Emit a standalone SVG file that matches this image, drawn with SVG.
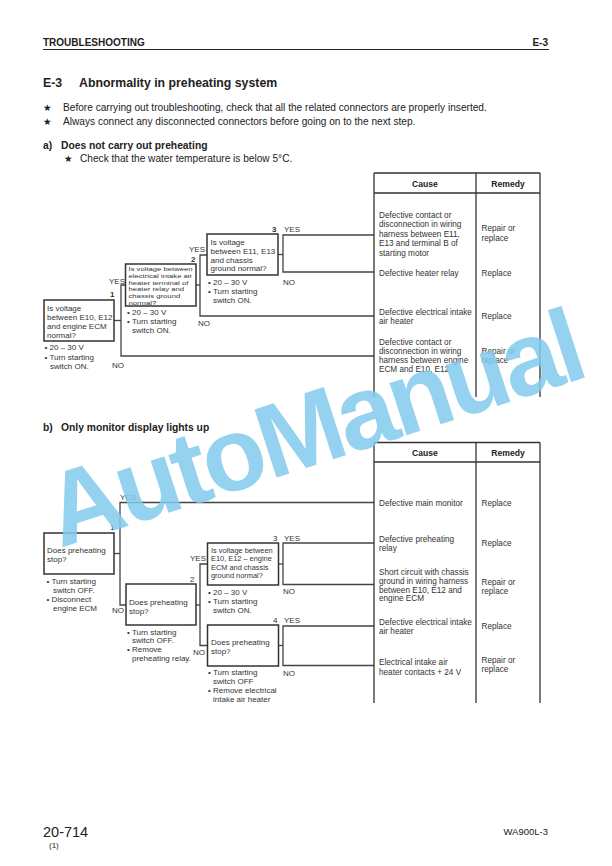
<svg xmlns="http://www.w3.org/2000/svg" width="612" height="866" viewBox="0 0 612 866">
<style>
text{font-family:"Liberation Sans",Arial,sans-serif;fill:#222}
.b{font-weight:bold}
.star{font-family:"DejaVu Sans",sans-serif;font-size:9.5px}
.body{font-size:10.15px}
.q{font-size:8px;fill:#333}
.qs{font-size:7.4px;fill:#333}
.qc{font-size:7.7px;fill:#333}
.lbl{font-size:8px;fill:#333}
.num{font-size:8px;fill:#333}
.tc{font-size:8.2px;fill:#333}
.th{font-size:8.6px;font-weight:bold;text-anchor:middle}
.box{fill:#fff;stroke:#333;stroke-width:1.5}
.conn{fill:none;stroke:#444;stroke-width:1.3}
.tbl{fill:none;stroke:#333;stroke-width:1.3}
</style>
<rect width="612" height="866" fill="#fff"/>

<g id="header">
<text x="43" y="46" class="b" font-size="10">TROUBLESHOOTING</text>
<text x="548" y="46" class="b" font-size="10" text-anchor="end">E-3</text>
<line x1="43" y1="49.5" x2="549" y2="49.5" stroke="#222" stroke-width="1"/>
<text x="43" y="86.5" class="b" font-size="12.3">E-3</text>
<text x="79" y="86.5" class="b" font-size="12.3">Abnormality in preheating system</text>
<text x="43" y="111" class="star">★</text>
<text x="63" y="110.5" class="body">Before carrying out troubleshooting, check that all the related connectors are properly inserted.</text>
<text x="43" y="125" class="star">★</text>
<text x="63" y="124.5" class="body">Always connect any disconnected connectors before going on to the next step.</text>
<text x="43" y="148.5" class="b" font-size="10.3">a)</text>
<text x="61" y="148.5" class="b" font-size="10.3">Does not carry out preheating</text>
<text x="64" y="162" class="star">★</text>
<text x="80" y="161.5" class="body">Check that the water temperature is below 5°C.</text>
<text x="43" y="430.5" class="b" font-size="10.3">b)</text>
<text x="61" y="430.5" class="b" font-size="10.3">Only monitor display lights up</text>
</g>

<g id="connectors">
<polyline class="conn" points="114,320.5 121,320.5"/>
<polyline class="conn" points="125.5,285 121,285 121,356 374,356"/>
<polyline class="conn" points="196,285 200,285"/>
<polyline class="conn" points="207,255 200,255 200,316 374,316"/>
<polyline class="conn" points="278,254.5 283,254.5"/>
<polyline class="conn" points="374,235 283,235 283,272 374,272"/>
<polyline class="conn" points="114,553.5 120,553.5"/>
<polyline class="conn" points="374,502.5 120,502.5 120,605 126,605"/>
<polyline class="conn" points="196,605 200,605"/>
<polyline class="conn" points="207.5,564 200,564 200,645.5 207.5,645.5"/>
<polyline class="conn" points="278.5,564 283,564"/>
<polyline class="conn" points="374,543 283,543 283,584.5 374,584.5"/>
<polyline class="conn" points="278.5,645.5 283,645.5"/>
<polyline class="conn" points="374,626 283,626 283,665.5 374,665.5"/>
<text x="109" y="284" class="lbl">YES</text>
<text x="112" y="368" class="lbl">NO</text>
<text x="189" y="252" class="lbl">YES</text>
<text x="198" y="326" class="lbl">NO</text>
<text x="284" y="232" class="lbl">YES</text>
<text x="283" y="285" class="lbl">NO</text>
<text x="120" y="500" class="lbl">YES</text>
<text x="112" y="613" class="lbl">NO</text>
<text x="190" y="561" class="lbl">YES</text>
<text x="193" y="655" class="lbl">NO</text>
<text x="284" y="541" class="lbl">YES</text>
<text x="283" y="594" class="lbl">NO</text>
<text x="284" y="622.5" class="lbl">YES</text>
<text x="283" y="676" class="lbl">NO</text>
</g>

<g id="a-step1">
<rect class="box" x="44" y="300" width="70" height="41"/>
<text x="110" y="297" class="num b">1</text>
<text class="q"><tspan x="47" y="311">Is voltage</tspan><tspan x="47" y="320">between E10, E12</tspan><tspan x="47" y="329">and engine ECM</tspan><tspan x="47" y="338">normal?</tspan></text>
<text class="q"><tspan x="44.5" y="350">• 20 – 30 V</tspan><tspan x="44.5" y="359.5">• Turn starting</tspan><tspan x="50" y="368.5">switch ON.</tspan></text>
</g>

<g id="a-step2">
<rect class="box" x="125.5" y="264" width="70.5" height="42"/>
<text x="191" y="262" class="num b">2</text>
<g transform="matrix(1,0,0,0.78,0,0)">
<text class="qc"><tspan x="128.5" y="347.8">Is voltage between</tspan><tspan x="128.5" y="356.4">electrical intake air</tspan><tspan x="128.5" y="365">heater terminal of</tspan><tspan x="128.5" y="373.6">heater relay and</tspan><tspan x="128.5" y="382.2">chassis ground</tspan><tspan x="128.5" y="390.8">normal?</tspan></text>
</g>
<text class="q"><tspan x="127" y="314.5">• 20 – 30 V</tspan><tspan x="127" y="324.3">• Turn starting</tspan><tspan x="132" y="333.3">switch ON.</tspan></text>
</g>

<g id="a-step3">
<rect class="box" x="207" y="234" width="71" height="41"/>
<text x="272" y="232" class="num b">3</text>
<text class="q"><tspan x="210.5" y="244.5">Is voltage</tspan><tspan x="210.5" y="254">between E11, E13</tspan><tspan x="210.5" y="262.5">and chassis</tspan><tspan x="210.5" y="271">ground normal?</tspan></text>
<text class="q"><tspan x="208" y="284.5">• 20 – 30 V</tspan><tspan x="208" y="294">• Turn starting</tspan><tspan x="213" y="303">switch ON.</tspan></text>
</g>

<g id="a-table">
<line class="tbl" x1="374" y1="173" x2="540" y2="173"/>
<line class="tbl" x1="374" y1="193" x2="540" y2="193"/>
<line class="tbl" x1="374" y1="173" x2="374" y2="397"/>
<line class="tbl" x1="476" y1="173" x2="476" y2="397"/>
<line class="tbl" x1="540" y1="173" x2="540" y2="397"/>
<text x="425" y="187" class="th">Cause</text>
<text x="508" y="187" class="th">Remedy</text>
<text class="tc"><tspan x="379" y="217.5">Defective contact or</tspan><tspan x="379" y="227">disconnection in wiring</tspan><tspan x="379" y="236.5">harness between E11,</tspan><tspan x="379" y="246">E13 and terminal B of</tspan><tspan x="379" y="255.5">starting motor</tspan></text>
<text class="tc"><tspan x="481.5" y="231">Repair or</tspan><tspan x="481.5" y="240.5">replace</tspan></text>
<text class="tc" x="379" y="276">Defective heater relay</text>
<text class="tc" x="481.5" y="276">Replace</text>
<text class="tc"><tspan x="379" y="314.5">Defective electrical intake</tspan><tspan x="379" y="323.5">air heater</tspan></text>
<text class="tc" x="481.5" y="319">Replace</text>
<text class="tc"><tspan x="379" y="344.5">Defective contact or</tspan><tspan x="379" y="353.5">disconnection in wiring</tspan><tspan x="379" y="363">harness between engine</tspan><tspan x="379" y="372">ECM and E10, E12</tspan></text>
<text class="tc"><tspan x="481.5" y="354">Repair or</tspan><tspan x="481.5" y="363">replace</tspan></text>
</g>

<g id="b-step1">
<rect class="box" x="44" y="533" width="70" height="41"/>
<text x="110" y="530" class="num">1</text>
<text class="q"><tspan x="47" y="553">Does preheating</tspan><tspan x="47" y="562">stop?</tspan></text>
<text class="q"><tspan x="46.5" y="584">• Turn starting</tspan><tspan x="53" y="593">switch OFF.</tspan><tspan x="46.5" y="602">• Disconnect</tspan><tspan x="53" y="611">engine ECM</tspan></text>
</g>

<g id="b-step2">
<rect class="box" x="126" y="584" width="70" height="41"/>
<text x="190" y="582" class="num">2</text>
<text class="q"><tspan x="129" y="604.5">Does preheating</tspan><tspan x="129" y="613.5">stop?</tspan></text>
<text class="q"><tspan x="127" y="634.5">• Turn starting</tspan><tspan x="132" y="643">switch OFF.</tspan><tspan x="127" y="652">• Remove</tspan><tspan x="132" y="661">preheating relay.</tspan></text>
</g>

<g id="b-step3">
<rect class="box" x="207.5" y="543" width="71" height="42"/>
<text x="273" y="541" class="num">3</text>
<text class="qs"><tspan x="211" y="553">Is voltage between</tspan><tspan x="211" y="561.3">E10, E12 – engine</tspan><tspan x="211" y="569.6">ECM and chassis</tspan><tspan x="211" y="578">ground normal?</tspan></text>
<text class="q"><tspan x="208" y="594.5">• 20 – 30 V</tspan><tspan x="208" y="604">• Turn starting</tspan><tspan x="213" y="613">switch ON.</tspan></text>
</g>

<g id="b-step4">
<rect class="box" x="207.5" y="625" width="71" height="41"/>
<text x="273" y="622.5" class="num">4</text>
<text class="q"><tspan x="211" y="645">Does preheating</tspan><tspan x="211" y="653.5">stop?</tspan></text>
<text class="q"><tspan x="208" y="674.5">• Turn starting</tspan><tspan x="213" y="683.5">switch OFF</tspan><tspan x="208" y="693">• Remove electrical</tspan><tspan x="213" y="701.5">intake air heater</tspan></text>
</g>

<g id="b-table">
<line class="tbl" x1="374" y1="442.5" x2="540" y2="442.5"/>
<line class="tbl" x1="374" y1="462" x2="540" y2="462"/>
<line class="tbl" x1="374" y1="442.5" x2="374" y2="703"/>
<line class="tbl" x1="476" y1="442.5" x2="476" y2="703"/>
<line class="tbl" x1="540" y1="442.5" x2="540" y2="703"/>
<text x="425" y="455.5" class="th">Cause</text>
<text x="508" y="455.5" class="th">Remedy</text>
<text class="tc" x="379" y="506.3">Defective main monitor</text>
<text class="tc" x="481.5" y="506.3">Replace</text>
<text class="tc"><tspan x="379" y="542">Defective preheating</tspan><tspan x="379" y="551.3">relay</tspan></text>
<text class="tc" x="481.5" y="545.7">Replace</text>
<text class="tc"><tspan x="379" y="574.7">Short circuit with chassis</tspan><tspan x="379" y="583.7">ground in wiring harness</tspan><tspan x="379" y="593">between E10, E12 and</tspan><tspan x="379" y="601.3">engine ECM</tspan></text>
<text class="tc"><tspan x="481.5" y="584.7">Repair or</tspan><tspan x="481.5" y="594">replace</tspan></text>
<text class="tc"><tspan x="379" y="624.7">Defective electrical intake</tspan><tspan x="379" y="633.7">air heater</tspan></text>
<text class="tc" x="481.5" y="628.7">Replace</text>
<text class="tc"><tspan x="379" y="665.3">Electrical intake air</tspan><tspan x="379" y="675.3">heater contacts + 24 V</tspan></text>
<text class="tc"><tspan x="481.5" y="663">Repair or</tspan><tspan x="481.5" y="672.3">replace</tspan></text>
</g>

<g id="footer">
<text x="43" y="836.5" font-size="14.5">20-714</text>
<text x="49" y="848" font-size="8">(1)</text>
<text x="548" y="835" font-size="9.5" text-anchor="end">WA900L-3</text>
</g>

<text x="60" y="548" transform="rotate(-18 60 548)" font-size="104" font-weight="bold" letter-spacing="-4" style="fill:#82cbee" opacity="0.85">AutoManual</text>
</svg>
